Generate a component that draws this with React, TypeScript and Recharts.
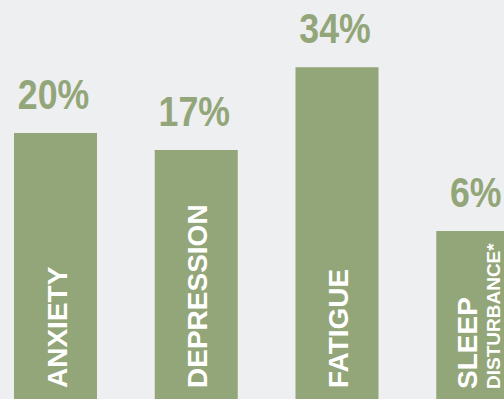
import { Bar, BarChart, LabelList, XAxis, YAxis } from "recharts";

const categories = ["ANXIETY", "DEPRESSION", "FATIGUE", "SLEEP"];
const subLabels = ["", "", "", "DISTURBANCE*"];
const values = [20, 17, 34, 6];

// bars start a little under zero on a sqrt scale
const FLOOR = -1.04;
const MAX = 36;

const GREEN = "#93a679";
const BG = "#eeeff1";

const data = categories.map((name, i) => ({
  name,
  sub: subLabels[i],
  value: values[i],
  range: [FLOOR, values[i]],
}));

function ValueLabel(props: any) {
  const { x, y, width, value } = props;
  const cx = Number(x) + Number(width) / 2 - 2;
  const by = Number(y) - 24;
  // condensed look, like the original heading face
  return (
    <text
      transform={`translate(${cx}, ${by}) scale(0.85, 1)`}
      textAnchor="middle"
      fill={GREEN}
      fontSize={42}
      fontWeight="bold"
      fontFamily="'Liberation Sans', Arial, sans-serif"
    >
      {value}%
    </text>
  );
}

function NameLabel(props: any) {
  const { x, index } = props;
  const bx = Number(x);
  const sub = subLabels[index];
  const font = "'Liberation Sans', Arial, sans-serif";
  if (sub) {
    return (
      <g>
        <text
          transform={`translate(${bx + 41}, 389) rotate(-90)`}
          fill="#fff"
          fontSize={28}
          fontWeight="bold"
          fontFamily={font}
        >
          {categories[index]}
        </text>
        <text
          transform={`translate(${bx + 64}, 389) rotate(-90)`}
          fill="#fff"
          fontSize={19}
          fontWeight="bold"
          fontFamily={font}
        >
          {sub}
        </text>
      </g>
    );
  }
  return (
    <text
      transform={`translate(${bx + 52.5}, 388) rotate(-90)`}
      fill="#fff"
      fontSize={28}
      fontWeight="bold"
      fontFamily={font}
    >
      {categories[index]}
    </text>
  );
}

export default function App() {
  return (
    <div
      style={{
        position: "absolute",
        top: 0,
        left: 0,
        width: 504,
        height: 399,
        overflow: "hidden",
        background: BG,
      }}
    >
      <div style={{ position: "absolute", top: 0, left: -15 }}>
        <BarChart
          width={563}
          height={399}
          data={data}
          margin={{ top: 59, right: 0, left: 0, bottom: 0 }}
          barSize={83}
        >
          <XAxis dataKey="name" hide />
          <YAxis
            hide
            type="number"
            scale="sqrt"
            domain={[FLOOR, MAX]}
            allowDataOverflow
          />
          <Bar dataKey="range" fill={GREEN} isAnimationActive={false}>
            <LabelList dataKey="value" content={ValueLabel} />
            <LabelList dataKey="name" content={NameLabel} />
          </Bar>
        </BarChart>
      </div>
    </div>
  );
}
